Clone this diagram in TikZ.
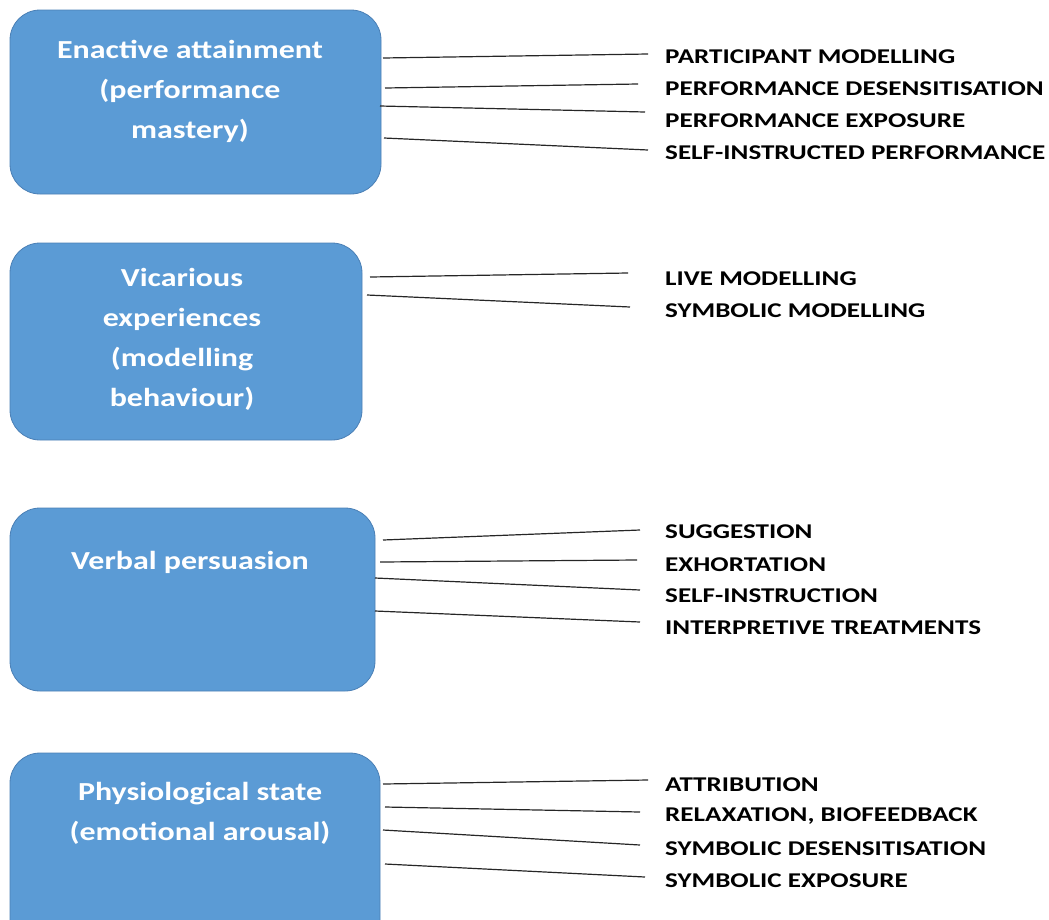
\documentclass[tikz,border=0pt]{standalone}
\usepackage{fontspec}
\setmainfont{Carlito}
\newfontfamily\boxfont[FakeStretch=1.23]{Carlito}
\newfontfamily\itemfont[FakeStretch=1.29]{Carlito}
\begin{document}
\begin{tikzpicture}[x=1pt,y=-1pt,
  srcbox/.style={draw=boxedge, fill=boxfill, line width=0.8pt, rounded corners=30pt},
  srctext/.style={text=white, align=center, inner sep=0pt,
    font=\boxfont\fontsize{26}{40}\selectfont\bfseries},
  item/.style={anchor=west, inner sep=0pt, text=black,
    font=\itemfont\fontsize{21}{24}\selectfont\bfseries},
  link/.style={draw=black!85, line width=1.2pt}]
\definecolor{boxfill}{HTML}{5B9BD5}
\definecolor{boxedge}{HTML}{4A7FB5}
\useasboundingbox (0,0) rectangle (1049,919);

% source boxes
\draw[srcbox] (10,10) rectangle (381,194);
\node[srctext] (s1) at (190,91) {Enactive attainment\\(performance\\mastery)};
\draw[srcbox] (10,243) rectangle (362,440);
\node[srctext] (s2) at (182,339) {Vicarious\\experiences\\(modelling\\behaviour)};
\draw[srcbox] (10,508) rectangle (375,691);
\node[srctext] (s3) at (190,562) {Verbal persuasion};
\draw[srcbox] (10,753) rectangle (380,950);
\node[srctext] (s4) at (200,813) {Physiological state\\(emotional arousal)};

% item labels
\node[item] (a1) at (665,56.5) {PARTICIPANT MODELLING};
\node[item] (a2) at (665,88.5) {PERFORMANCE DESENSITISATION};
\node[item] (a3) at (665,120.5) {PERFORMANCE EXPOSURE};
\node[item] (a4) at (665,152.5) {SELF-INSTRUCTED PERFORMANCE};
\node[item] (b1) at (665,278.5) {LIVE MODELLING};
\node[item] (b2) at (665,310.5) {SYMBOLIC MODELLING};
\node[item] (c1) at (665,531.5) {SUGGESTION};
\node[item] (c2) at (665,564.5) {EXHORTATION};
\node[item] (c3) at (665,595.5) {SELF-INSTRUCTION};
\node[item] (c4) at (665,627.5) {INTERPRETIVE TREATMENTS};
\node[item] (d1) at (665,784.5) {ATTRIBUTION};
\node[item] (d2) at (665,816.5) {RELAXATION, BIOFEEDBACK};
\node[item] (d3) at (665,848.5) {SYMBOLIC DESENSITISATION};
\node[item] (d4) at (665,880.5) {SYMBOLIC EXPOSURE};

% connector end points
\coordinate (pa1) at (383,58);  \coordinate (qa1) at (648,54);
\coordinate (pa2) at (385,88);  \coordinate (qa2) at (638,84);
\coordinate (pa3) at (380,106); \coordinate (qa3) at (645,112);
\coordinate (pa4) at (384,138); \coordinate (qa4) at (648,150);
\coordinate (pb1) at (370,277); \coordinate (qb1) at (628,273);
\coordinate (pb2) at (367,295); \coordinate (qb2) at (630,307);
\coordinate (pc1) at (383,540); \coordinate (qc1) at (640,530);
\coordinate (pc2) at (380,562); \coordinate (qc2) at (637,560);
\coordinate (pc3) at (375,578); \coordinate (qc3) at (640,590);
\coordinate (pc4) at (375,611); \coordinate (qc4) at (640,622);
\coordinate (pd1) at (383,784); \coordinate (qd1) at (648,780);
\coordinate (pd2) at (385,807); \coordinate (qd2) at (640,812);
\coordinate (pd3) at (383,830); \coordinate (qd3) at (640,845);
\coordinate (pd4) at (385,864); \coordinate (qd4) at (645,877);

\foreach \k in {a1,a2,a3,a4,b1,b2,c1,c2,c3,c4,d1,d2,d3,d4}
  \draw[link] (p\k) -- (q\k);
\end{tikzpicture}
\end{document}
